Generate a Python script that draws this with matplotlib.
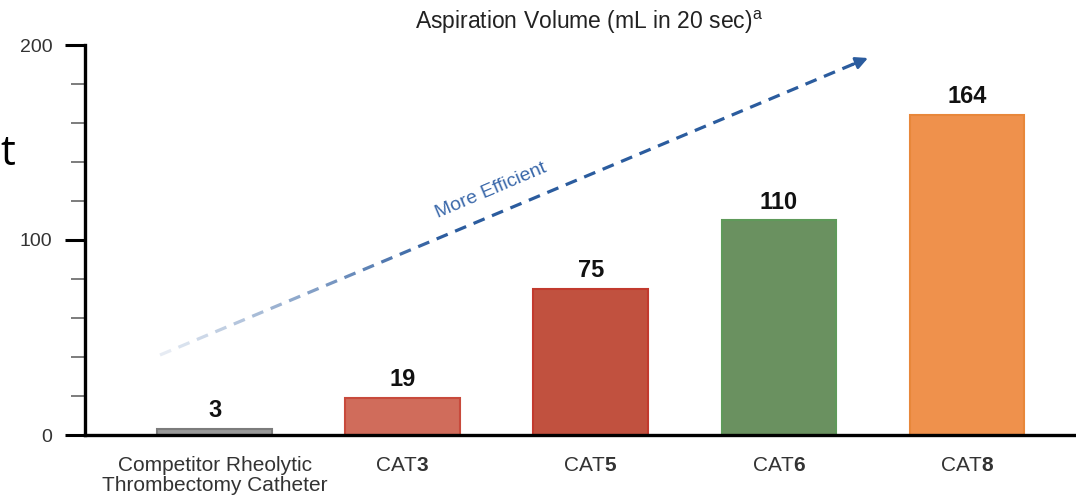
import matplotlib
matplotlib.use("Agg")
import matplotlib.pyplot as plt
import numpy as np
from matplotlib.ticker import MultipleLocator
from matplotlib.lines import Line2D

plt.rcParams['font.family'] = ['Liberation Sans', 'DejaVu Sans']
plt.rcParams['mathtext.fontset'] = 'custom'
plt.rcParams['mathtext.rm'] = 'Liberation Sans'
plt.rcParams['mathtext.bf'] = 'Liberation Sans:bold'

# data
categories = ['Competitor Rheolytic\nThrombectomy Catheter',
              r'CAT$\mathbf{3}$', r'CAT$\mathbf{5}$', r'CAT$\mathbf{6}$', r'CAT$\mathbf{8}$']
values = [3, 19, 75, 110, 164]
face_colors = ['#9a9a9a', '#d06c5b', '#c1513f', '#6a9160', '#ef914c']
edge_colors = ['#7c7c7c', '#c84a3c', '#c23a2e', '#5f9a5a', '#e8873a']

fig = plt.figure(figsize=(10.76, 4.98), dpi=100)
ax = fig.add_axes([85 / 1076, 1 - 435 / 498, (1076 - 85) / 1076, 390 / 498])

x = np.arange(len(values))
bars = ax.bar(x, values, width=0.61, color=face_colors, edgecolor=edge_colors, linewidth=1.5, zorder=2)

for b, v in zip(bars, values):
    ax.annotate(str(v), (b.get_x() + b.get_width() / 2, v), xytext=(0, 5), textcoords='offset points',
                ha='center', va='bottom', fontsize=17, fontweight='bold', color='#111111')

ax.set_xlim(-0.69, 4.58)
ax.set_ylim(0, 200)
ax.set_xticks(x)
ax.set_xticklabels(categories, fontsize=15, color='#333333', linespacing=1.05)
ax.tick_params(axis='x', length=0, pad=15)

ax.yaxis.set_major_locator(MultipleLocator(100))
ax.yaxis.set_minor_locator(MultipleLocator(20))
ax.tick_params(axis='y', which='major', length=14.5, width=2.2, color='black',
               labelsize=14, labelcolor='#333333', pad=9)
ax.tick_params(axis='y', which='minor', length=10, width=1.2, color='#666666')

for s in ['top', 'right']:
    ax.spines[s].set_visible(False)
ax.spines['left'].set_linewidth(2.4)
ax.spines['bottom'].set_linewidth(2.4)
ax.spines['left'].set_color('black')
ax.spines['bottom'].set_color('black')

fig.text(589 / 1076, 1 - 22 / 498, r'Aspiration Volume (mL in 20 sec)$^{\mathrm{a}}$',
         ha='center', va='center', fontsize=16.5, color='#222222')

# dashed "More Efficient" arrow with fade-in
p0 = np.array([160.0, 498 - 355.0])
p1 = np.array([856.0, 498 - 63.0])
d = p1 - p0
L = np.hypot(*d)
u = d / L
dark = np.array([0.17, 0.36, 0.62])
light = np.array([1.0, 1.0, 1.0])
s = 0.0
while s < L:
    e = min(s + 12, L)
    t = min(1.0, (s / L) / 0.4)
    c = light + (dark - light) * (0.12 + 0.88 * t)
    a = p0 + u * s
    b = p0 + u * e
    fig.add_artist(Line2D([a[0] / 1076, b[0] / 1076], [a[1] / 498, b[1] / 498],
                          transform=fig.transFigure, color=c, lw=2.3, solid_capstyle='butt'))
    s += 20
ax.annotate('', xy=(868, 498 - 58), xytext=(852, 498 - 64.7), xycoords='figure pixels',
            textcoords='figure pixels',
            arrowprops=dict(arrowstyle='-|>', color=dark, lw=2, mutation_scale=18, shrinkA=0, shrinkB=0),
            annotation_clip=False)
fig.text(491 / 1076, 1 - 191 / 498, 'More Efficient', rotation=23, rotation_mode='anchor',
         ha='center', va='center', fontsize=14, color='#3a68aa')

# letter at the left edge
fig.text(0, 1 - 165 / 498, 't', fontsize=30, ha='left', va='baseline', color='black',
         family='Open Sans')

fig.savefig('out.png', dpi=100)
